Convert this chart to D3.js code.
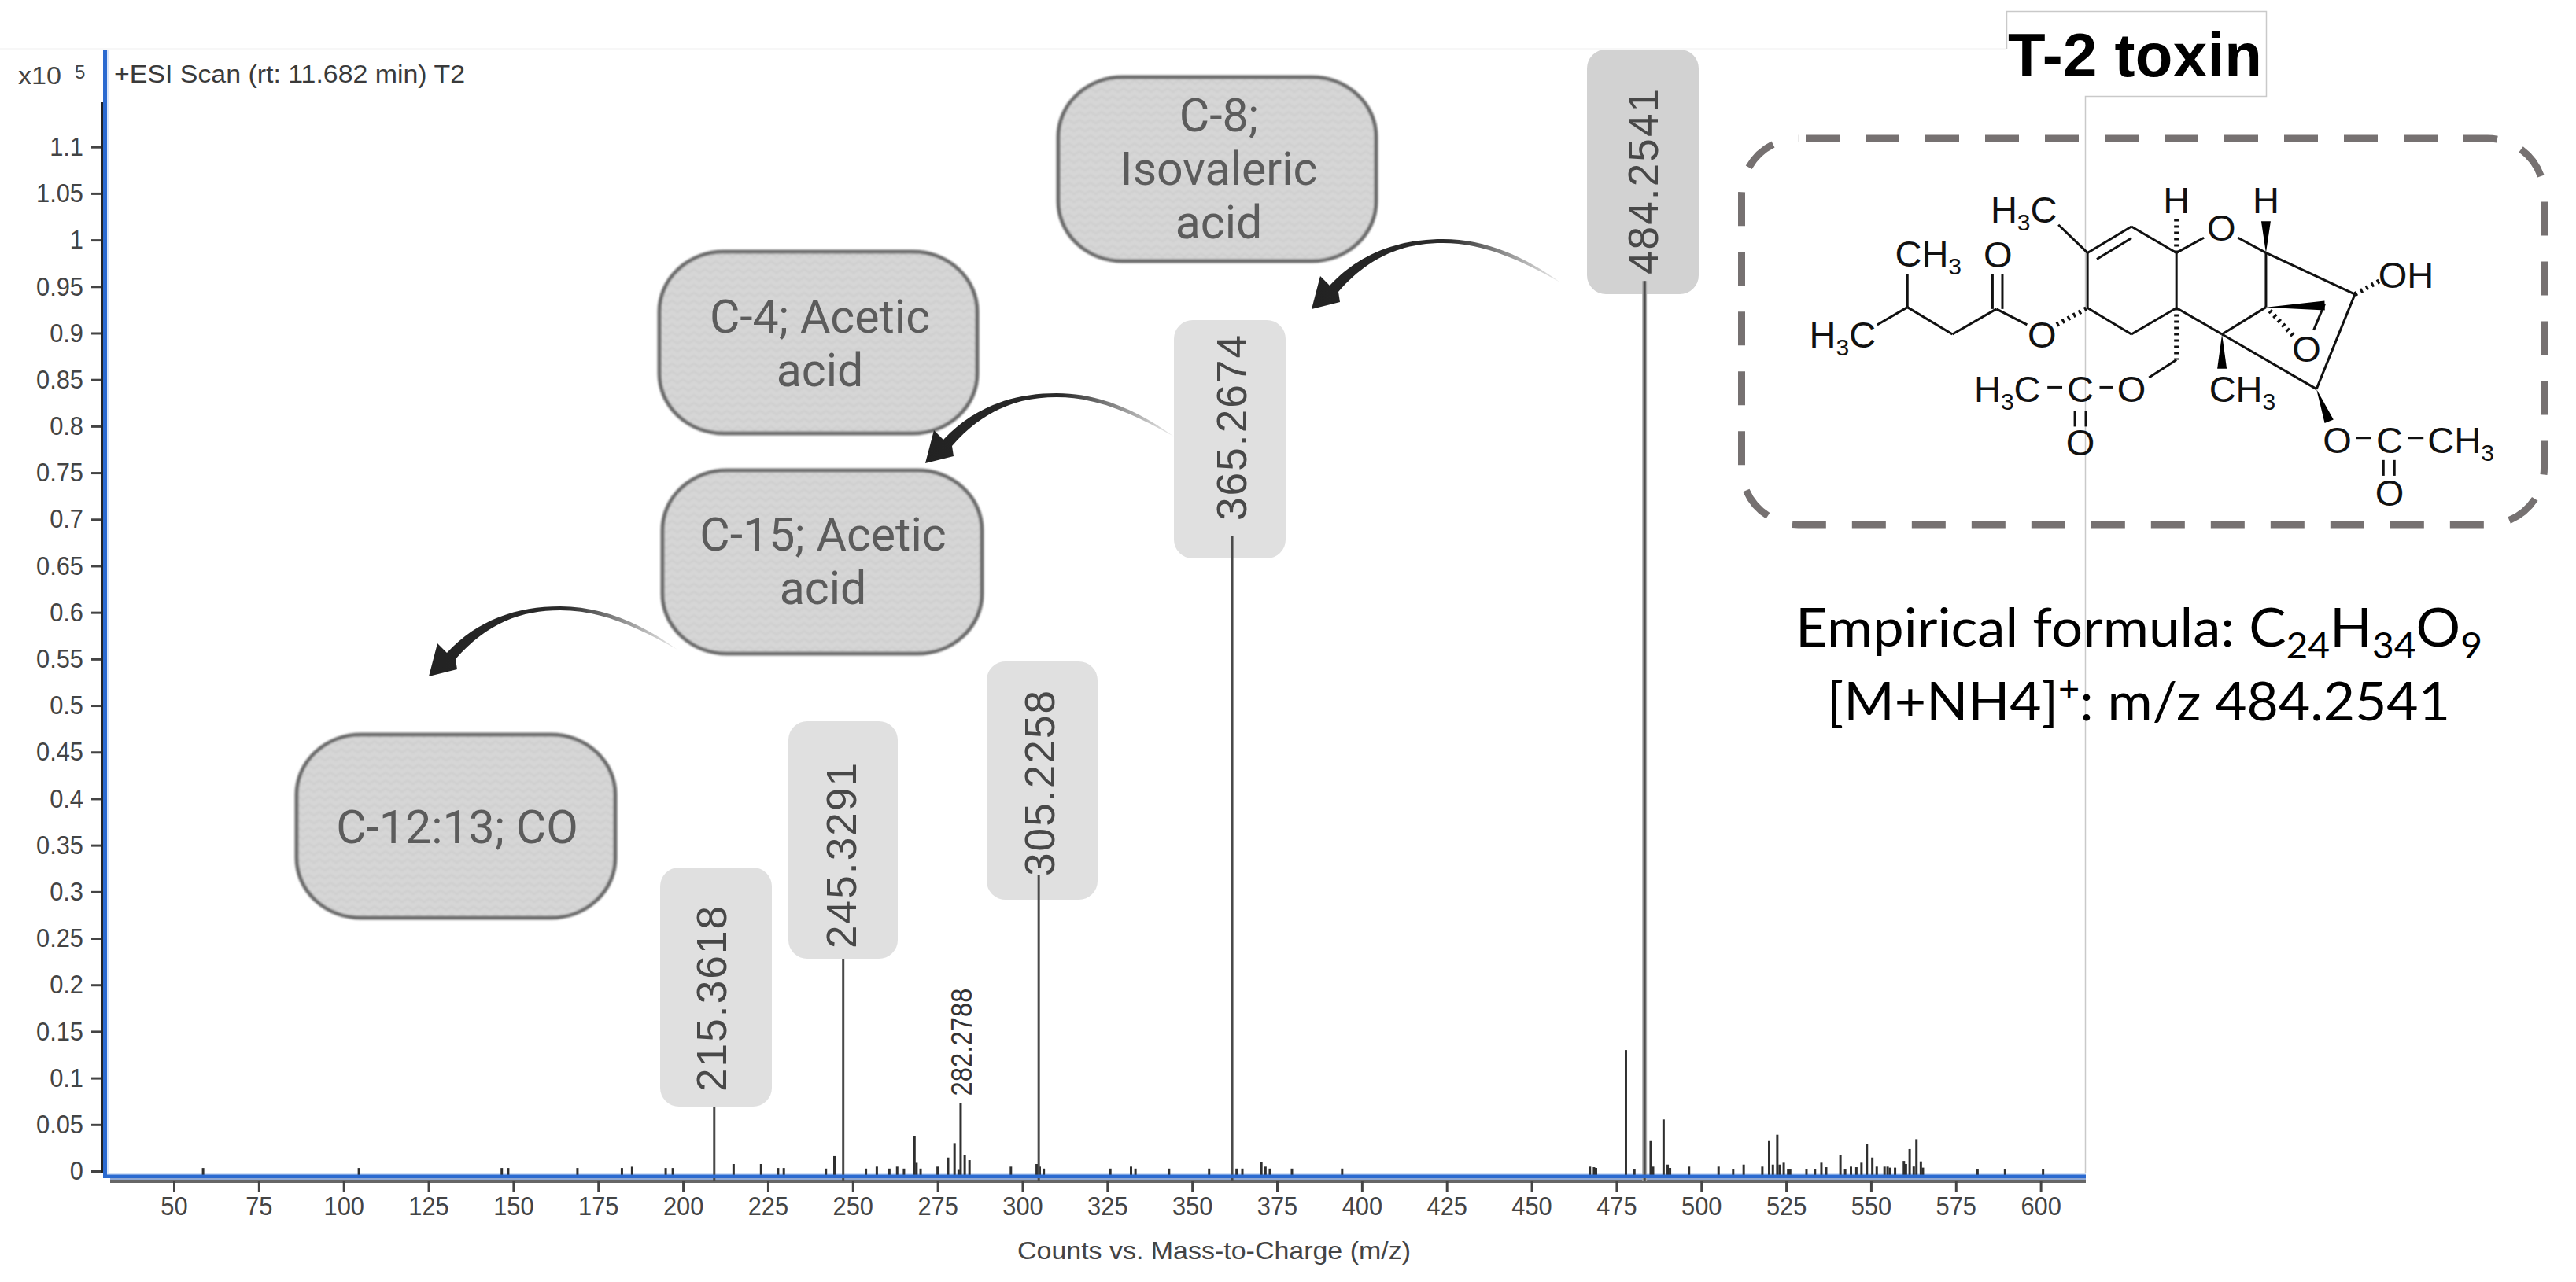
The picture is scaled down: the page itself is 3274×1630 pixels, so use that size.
<!DOCTYPE html>
<html><head><meta charset="utf-8">
<script src="https://cdn.jsdelivr.net/npm/d3@7"></script>
<style>html,body{margin:0;padding:0;background:#fff}svg{display:block}text{font-family:"Liberation Sans",Arial,sans-serif}</style>
</head><body><svg id="c" width="3274" height="1630"></svg>
<script>
// ---------- data ----------
const xTickValues = [50,75,100,125,150,175,200,225,250,275,300,325,350,375,400,425,450,475,500,525,550,575,600];
const yTickValues = [0,0.05,0.1,0.15,0.2,0.25,0.3,0.35,0.4,0.45,0.5,0.55,0.6,0.65,0.7,0.75,0.8,0.85,0.9,0.95,1,1.05,1.1];
const mainMz = [209.2,247.2,304.8,361.8,483.3];
const mainIntensity = [0.069,0.228,0.318,0.682,0.956];
const mainLabels = ["215.3618","245.3291","305.2258","365.2674","484.2541"];
const minorMz = [58.6,104.5,146.6,148.5,168.9,182,185,194.9,197,214.9,223,228,229.7,
 242.1,244.6,253.9,257.1,260.8,263.1,265.1,268.2,268.8,270,275,278.1,280,281.2,281.8,283,284.4,296.6,304.2,305.1,306.3,325.9,332,333.3,343.2,355,363.1,364.8,370.4,371.6,372.9,379.4,394.2,
 467.2,468.4,469,477.8,480.3,485.1,485.8,488.9,490.1,490.8,496.4,505.1,509.4,512.5,518,520,521.1,522.4,523.1,524.3,525.6,526.2,531,533.5,535.4,536.8,541,542.4,544.1,545.7,547.2,548.8,550.4,551.7,554,554.9,555.6,557.1,559.7,560.3,561.4,562.6,563.4,564.7,565.3,581.4,589.5,600.7];
const minorIntensity = [0.0033,0.0033,0.0033,0.0033,0.0033,0.0033,0.0047,0.0033,0.0033,0.0076,0.0076,0.0033,0.0033,
 0.0027,0.0161,0.0027,0.0048,0.0027,0.0048,0.0027,0.0372,0.0089,0.0027,0.0048,0.0146,0.0301,0.0021,0.0729,0.0175,0.0118,0.0048,0.0076,0.0048,0.0027,0.0027,0.0048,0.0027,0.0027,0.0027,0.0027,0.0027,0.0098,0.0048,0.0027,0.0027,0.0027,
 0.0048,0.0042,0.0034,0.130,0.0025,0.0323,0.0048,0.0555,0.007,0.0034,0.0048,0.0048,0.0025,0.007,0.0048,0.0323,0.007,0.0391,0.007,0.009,0.0025,0.0025,0.0025,0.0025,0.009,0.0042,0.0175,0.0025,0.0048,0.0042,0.009,0.0295,0.0146,0.0048,0.0048,0.0048,0.0037,0.0037,0.0109,0.0076,0.0237,0.0049,0.0343,0.0104,0.0037,0.0025,0.0025,0.0025];
const minorLabel = "282.2788";
const yAxisLabelFormat = d3.format("~g");
const calloutTexts = [["C-8;","Isovaleric","acid"],["C-4; Acetic","acid"],["C-15; Acetic","acid"],["C-12:13; CO"]];

// ---------- page layout (not data) ----------
const svg = d3.select("#c");
const x = d3.scaleLinear().domain([29.6,613.3]).range([133,2651]);
const y = d3.scaleLinear().domain([0,1.1]).range([1489,186.7]);
const baseY = 1496;
const ink = "#4a4a4a";

// faint frame pieces of the pasted picture
const frame = svg.append("g").attr("fill","none");
frame.append("path").attr("d","M0,62H2550").attr("stroke","#f5f5f5").attr("stroke-width",1.5);
frame.append("path").attr("d","M2550.5,62V14.5H2880.5V122.5H2650.5V1492").attr("stroke","#c9c9c9").attr("stroke-width",1.5);

// value boxes
const boxLayout = [
 {x:839,y:1103,w:142,h:304,fill:"#e0e0e0",tx:923,ty:1270},
 {x:1002,y:917,w:139,h:302,fill:"#e0e0e0",tx:1088,ty:1088},
 {x:1254,y:841,w:141,h:303,fill:"#e0e0e0",tx:1340,ty:996},
 {x:1492,y:407,w:142,h:303,fill:"#e0e0e0",tx:1584,ty:544},
 {x:2017,y:63,w:142,h:311,fill:"#d2d2d2",tx:2107,ty:231}
];
svg.append("g").selectAll("rect").data(boxLayout).join("rect")
 .attr("x",d=>d.x).attr("y",d=>d.y).attr("width",d=>d.w).attr("height",d=>d.h)
 .attr("rx",24).attr("fill",d=>d.fill);
svg.append("g").selectAll("text").data(mainLabels).join("text")
 .attr("transform",(d,i)=>`translate(${boxLayout[i].tx},${boxLayout[i].ty}) rotate(-90)`)
 .attr("text-anchor","middle").attr("font-size",53).attr("fill","#484848")
 .attr("textLength",236).attr("lengthAdjust","spacing").text(d=>d);

// callouts
const defs = svg.append("defs");
const blur = defs.append("filter").attr("id","soft").attr("x","-5%").attr("y","-5%").attr("width","110%").attr("height","110%");
blur.append("feGaussianBlur").attr("stdDeviation",1.2);
const hatch = defs.append("pattern").attr("id","hatch").attr("width",14).attr("height",10).attr("patternUnits","userSpaceOnUse");
hatch.append("rect").attr("width",14).attr("height",10).attr("fill","#d6d6d6");
hatch.append("path").attr("d","M0,2L7,7L14,2").attr("fill","none").attr("stroke","#cdcdcd").attr("stroke-width",2);
const calloutLayout = [
 {x:1345,y:98,w:404,h:234,cx:1549,base:[167,235,303]},
 {x:838,y:320,w:404,h:231,cx:1042,base:[423,491]},
 {x:842,y:598,w:406,h:233,cx:1046,base:[700,768]},
 {x:377,y:934,w:405,h:233,cx:581,base:[1072]}
];
const cg = svg.append("g");
calloutLayout.forEach((b,i)=>{
 cg.append("rect").attr("x",b.x).attr("y",b.y).attr("width",b.w).attr("height",b.h).attr("rx",82).attr("ry",76)
  .attr("fill","url(#hatch)").attr("stroke","#6d6d6d").attr("stroke-width",5).attr("filter","url(#soft)");
 calloutTexts[i].forEach((t,j)=>{
  cg.append("text").attr("x",b.cx).attr("y",b.base[j]).attr("text-anchor","middle")
   .attr("font-size",59).attr("font-weight",400).attr("fill","#5c5c5c").style("font-family","Roboto").text(t);
 });
});

// curved arrows
const grad = defs.append("linearGradient").attr("id","fade").attr("x1",0).attr("x2",1).attr("y1",0).attr("y2",0);
grad.append("stop").attr("offset",0).attr("stop-color","#222");
grad.append("stop").attr("offset",0.55).attr("stop-color","#2b2b2b");
grad.append("stop").attr("offset",0.8).attr("stop-color","#999");
grad.append("stop").attr("offset",1).attr("stop-color","#eee");
const arrowTips = [[1667,393],[1176,589],[545,860]];
const arrowPath = "M0,0L11,-42L23,-30C62,-72 112,-89 167,-89C222,-89 272,-66 316,-34C268,-61 220,-84 167,-84C118,-84 74,-68 34,-22L36,-9Z";
svg.append("g").selectAll("path").data(arrowTips).join("path")
 .attr("transform",d=>`translate(${d[0]},${d[1]})`).attr("d",arrowPath).attr("fill","url(#fade)");

// axes: coloured frame
svg.append("rect").attr("x",135).attr("y",63).attr("width",4).attr("height",1430).attr("fill","#dbe7fa");
svg.append("rect").attr("x",131).attr("y",1491).attr("width",2520).attr("height",3).attr("fill","#cfdff6");
svg.append("rect").attr("x",140).attr("y",1499).attr("width",2511).attr("height",5).attr("fill","#666");
svg.append("rect").attr("x",140).attr("y",1497).attr("width",2511).attr("height",3).attr("fill","#8fa6cf");

// squeeze a tick label so it is tall and narrow as in the reference
function narrow(sel){
 sel.attr("font-size",33.5).attr("fill","#444").style("font-family","'Liberation Sans'")
  .each(function(){const t=d3.select(this);t.attr("textLength",this.getComputedTextLength()*0.92).attr("lengthAdjust","spacingAndGlyphs");});
}

// y axis
const yAxis = svg.append("g").attr("transform","translate(130,0)")
 .call(d3.axisLeft(y).tickValues(yTickValues).tickFormat(yAxisLabelFormat).tickSize(14).tickPadding(10));
yAxis.select(".domain").remove();
yAxis.selectAll("line").attr("stroke","#444").attr("stroke-width",3);
narrow(yAxis.selectAll("text"));
svg.append("rect").attr("x",128).attr("y",130).attr("width",4).attr("height",1361).attr("fill","#222");

// x axis
const xAxis = svg.append("g").attr("transform","translate(0,1502)")
 .call(d3.axisBottom(x).tickValues(xTickValues).tickSize(14).tickPadding(5));
xAxis.select(".domain").remove();
xAxis.selectAll("line").attr("stroke","#444").attr("stroke-width",3);
narrow(xAxis.selectAll("text"));

// peaks
svg.append("g").selectAll("line").data(minorMz).join("line")
 .attr("x1",d=>x(d)).attr("x2",d=>x(d)).attr("y1",baseY).attr("y2",(d,i)=>y(minorIntensity[i]))
 .attr("stroke","#2f2f2f").attr("stroke-width",3);
svg.append("g").selectAll("line").data(mainMz.slice(-1)).join("line")
 .attr("x1",d=>x(d)).attr("x2",d=>x(d)).attr("y1",1502).attr("y2",y(mainIntensity[mainIntensity.length-1]))
 .attr("stroke","#aaa").attr("stroke-width",6);
svg.append("g").selectAll("line").data(mainMz).join("line")
 .attr("x1",d=>x(d)).attr("x2",d=>x(d)).attr("y1",1502).attr("y2",(d,i)=>y(mainIntensity[i]))
 .attr("stroke",ink).attr("stroke-width",3);

// blue axis lines on top
svg.append("rect").attr("x",131).attr("y",63).attr("width",5).attr("height",1435).attr("fill","#2b6ad0");
svg.append("rect").attr("x",131).attr("y",1493.5).attr("width",2520).attr("height",4.5).attr("fill","#2b6ad0");

// axis text
svg.append("text").attr("x",23).attr("y",107).attr("font-size",31).attr("fill","#444")
 .attr("textLength",55).attr("lengthAdjust","spacingAndGlyphs").text("x10");
svg.append("text").attr("x",95).attr("y",100).attr("font-size",24).attr("fill","#444").text("5");
svg.append("text").attr("x",145).attr("y",105).attr("font-size",31).attr("fill","#3a3a3a")
 .attr("textLength",446).attr("lengthAdjust","spacingAndGlyphs").text("+ESI Scan (rt: 11.682 min) T2");
svg.append("text").attr("x",1293).attr("y",1601).attr("font-size",32).attr("fill","#444")
 .attr("textLength",500).attr("lengthAdjust","spacingAndGlyphs").text("Counts vs. Mass-to-Charge (m/z)");
svg.append("text").attr("transform","translate(1235,1325) rotate(-90)").attr("text-anchor","middle")
 .attr("font-size",37).attr("fill","#333").attr("textLength",137).attr("lengthAdjust","spacingAndGlyphs").text(minorLabel);

// title and formula
svg.append("text").attr("x",2552).attr("y",97).attr("font-size",78).attr("font-weight","bold").attr("fill","#000")
 .attr("textLength",323).attr("lengthAdjust","spacing").text("T-2 toxin");
const fm = svg.append("text").attr("x",2282).attr("y",822).attr("font-size",68).attr("fill","#000").style("font-family","Lato")
 .attr("textLength",873).attr("lengthAdjust","spacingAndGlyphs");
fm.append("tspan").text("Empirical formula: C");
fm.append("tspan").attr("font-size",46).attr("dy",15).text("24");
fm.append("tspan").attr("dy",-15).text("H");
fm.append("tspan").attr("font-size",46).attr("dy",15).text("34");
fm.append("tspan").attr("dy",-15).text("O");
fm.append("tspan").attr("font-size",46).attr("dy",15).text("9");
const f2 = svg.append("text").attr("x",2322).attr("y",916).attr("font-size",68).attr("fill","#000").style("font-family","Lato")
 .attr("textLength",792).attr("lengthAdjust","spacingAndGlyphs");
f2.append("tspan").text("[M+NH4]");
f2.append("tspan").attr("font-size",46).attr("dy",-24).text("+");
f2.append("tspan").attr("dy",24).text(": m/z 484.2541");

// structure of the toxin, in crop units of the pasted drawing
const px = X => 2180 + X/1.433, py = Y => Y/2.24;
const st = svg.append("g");
st.append("rect").attr("x",2213.5).attr("y",176).attr("width",1020).attr("height",491).attr("rx",72).attr("ry",72)
 .attr("fill","none").attr("stroke","#767171").attr("stroke-width",9).attr("stroke-dasharray","43 33").attr("stroke-dashoffset",-9.5);
const bonds = [[295,925,350,875],[350,875,350,780],[350,875,432,952],[432,952,512,880],[505,880,505,780],[523,880,523,780],[512,880,568,925],
 [678,877,678,720],[678,720,758,645],[695,738,758,678],[758,645,840,720],[840,720,840,877],[840,877,758,952],[758,952,678,877],[625,640,678,720],
 [840,720,890,677],[952,677,1003,720],[1003,720,1165,838],[1003,720,1003,875],[1003,875,923,952],[840,877,923,952],[923,952,1095,1108],[1165,838,1095,1108],
 [1110,865,1090,940],[840,1025,790,1075],[605,1103,632,1103],[700,1103,725,1103],[655,1170,655,1215],[675,1170,675,1215],
 [1167,1247,1195,1247],[1262,1247,1290,1247],[1217,1310,1217,1355],[1237,1310,1237,1355]];
st.append("g").selectAll("line").data(bonds).join("line")
 .attr("x1",d=>px(d[0])).attr("y1",d=>py(d[1])).attr("x2",d=>px(d[2])).attr("y2",d=>py(d[3]))
 .attr("stroke","#111").attr("stroke-width",3);
const hashed = [[622,925,678,877],[840,720,840,625],[1165,838,1210,800],[1010,885,1055,960],[840,877,840,1025]];
st.append("g").selectAll("line").data(hashed).join("line")
 .attr("x1",d=>px(d[0])).attr("y1",d=>py(d[1])).attr("x2",d=>px(d[2])).attr("y2",d=>py(d[3]))
 .attr("stroke","#111").attr("stroke-width",6).attr("stroke-dasharray","3 5");
const wedges = [[1003,720,1003,630],[1003,875,1110,870],[923,952,923,1050],[1095,1108,1118,1200]];
st.append("g").selectAll("path").data(wedges).join("path").attr("fill","#000")
 .attr("d",d=>{
   const a=px(d[0]),b=py(d[1]),c=px(d[2]),e=py(d[3]);
   const L=Math.hypot(c-a,e-b),nx=-(e-b)/L*6,ny=(c-a)/L*6;
   return `M${a},${b}L${c+nx},${e+ny}L${c-nx},${e-ny}Z`;
 });
const atoms = [["H|3|C",232,990],["CH|3",388,760],["O",515,762],["O",595,990],["H|3|C",562,635],["H",840,608],["O",922,685],["H",1003,608],["OH",1258,820],
 ["O",1077,1030],["H|3|C",532,1145],["C",665,1145],["O",758,1145],["CH|3",960,1145],["O",665,1298],["O",1133,1290],["C",1228,1290],["CH|3",1358,1290],["O",1228,1440]];
atoms.forEach(a=>{
 const t = st.append("text").attr("x",px(a[1])).attr("y",py(a[2])).attr("text-anchor","middle").attr("font-size",47).attr("fill","#111");
 let shifted=false;
 a[0].split("|").forEach((part,i)=>{
   const isSub = i%2===1;
   const s = t.append("tspan").text(part);
   if(isSub){s.attr("font-size",30).attr("dy",10);shifted=true;}
   else if(shifted){s.attr("dy",-10);shifted=false;}
 });
});
</script></body></html>
